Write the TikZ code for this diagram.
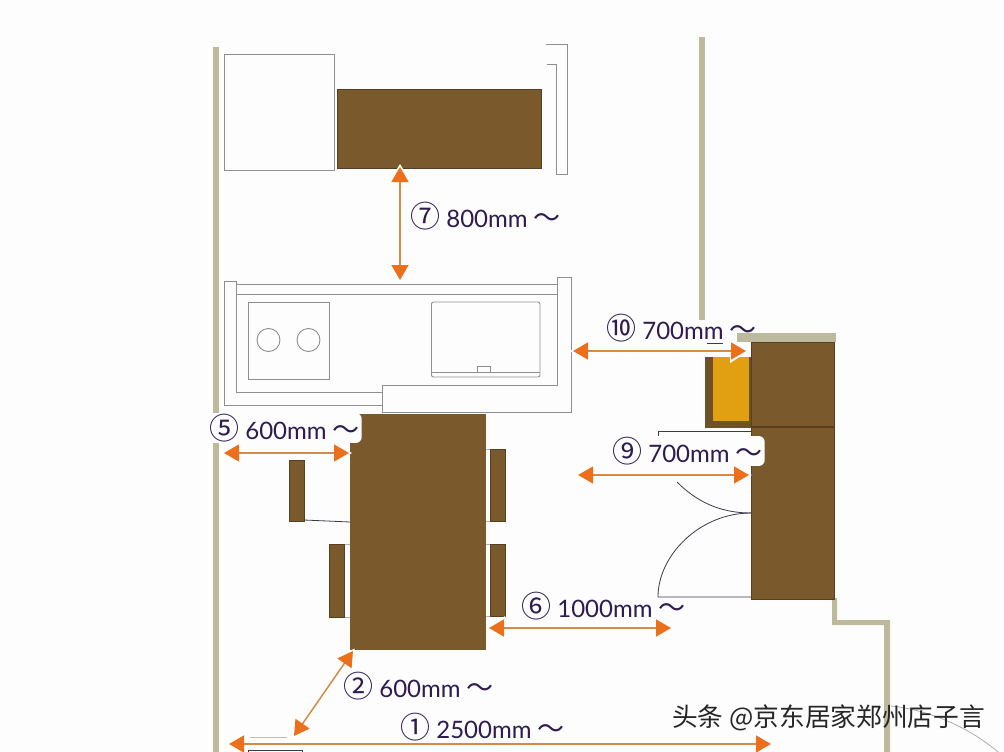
\documentclass[tikz,border=0pt]{standalone}
\usepackage{fontspec}
\setmainfont{Lato}
\newfontfamily\cjkf{Noto Sans CJK JP}
\newfontfamily\cjks{Noto Sans CJK SC}
\usetikzlibrary{arrows.meta}
\definecolor{bgc}{HTML}{FDFDFE}
\definecolor{wallc}{HTML}{BDB99C}
\definecolor{brownc}{HTML}{7A5A2C}
\definecolor{browne}{HTML}{57401F}
\definecolor{yellowc}{HTML}{E0A012}
\definecolor{linec}{HTML}{8C9090}
\definecolor{orangec}{HTML}{EC701C}
\definecolor{shaftc}{HTML}{D58A45}
\definecolor{labelc}{HTML}{2E1B4F}
\definecolor{darkl}{HTML}{3C3A48}
\tikzset{
  wall/.style={fill=wallc,draw=none},
  outline/.style={draw=linec,line width=0.9pt,line join=miter},
  wood/.style={fill=brownc,draw=browne,line width=0.7pt},
  doorline/.style={draw=darkl,line width=0.8pt},
  halo/.style={draw=white,line width=3.5pt,shorten >=-3pt,shorten <=-3pt,
    {Triangle[length=19pt,width=23pt]}-{Triangle[length=19pt,width=23pt]}},
  dimline/.style={draw=shaftc,line width=1.5pt,
    {Triangle[length=15pt,width=17pt,color=orangec]}-{Triangle[length=15pt,width=17pt,color=orangec]}},
  dimlabel/.style={anchor=west,inner sep=0pt,text=labelc,font=\fontsize{24}{26}\selectfont},
  blank/.style={fill=bgc,rounded corners=6pt,inner xsep=2pt,inner ysep=1pt},
  wmark/.style={anchor=west,inner sep=0pt,text=black!85,font=\cjks\fontsize{25.7}{28}\selectfont}
}
\newcommand{\circnum}[1]{{\cjkf\fontsize{30}{30}\selectfont #1}}
\newcommand{\wavemark}{{\cjkf\fontsize{27}{27}\selectfont 〜}}
\newcommand{\dimarrow}[2]{\draw[halo] (#1) -- (#2);\draw[dimline] (#1) -- (#2);}
\begin{document}
\begin{tikzpicture}[x=1pt,y=-1pt]
\useasboundingbox (0,0) rectangle (1004,752);
\fill[bgc] (0,0) rectangle (1004,752);
% walls
\fill[wall] (213,47) rectangle (219,752);
\fill[wall] (699,37) rectangle (705,320);
\fill[wall] (737,333) rectangle (836,342);
\fill[wall] (832,598) -- (837,598) -- (837,620) -- (890,620) -- (890,752) -- (884,752) -- (884,625) -- (832,625) -- cycle;
\draw[draw=linec!80,line width=0.7pt] (891,706) .. controls (930,710) and (970,728) .. (998,752);
% fridge box and brown counter
\draw[outline] (224,54) rectangle (334,170);
\fill[brownc] (337,89) rectangle (541,168);
\draw[browne,line width=0.7pt] (337,89) rectangle (541,168);
\draw[outline] (546,44) -- (567.5,44) -- (567.5,174) -- (556,174) -- (556,64) -- (547,64);
% kitchen counter
\draw[outline] (224,281) -- (236.5,281) -- (236.5,392) -- (382,392);
\draw[outline] (224,281) -- (224,405) -- (382,405);
\draw[outline] (382,412) -- (382,385) -- (557,385) -- (557,277) -- (571.5,277) -- (571.5,412) -- cycle;
\draw[outline] (236.5,284.5) -- (557,284.5);
\draw[outline] (236.5,294) -- (557,294);
\draw[outline] (248,302) rectangle (329,379);
\draw[outline] (268.5,340) circle (11.5);
\draw[outline] (308.5,340) circle (11.5);
\draw[outline,rounded corners=2pt] (431.5,302) rectangle (540,377);
\draw[outline] (431.5,372) -- (540,372);
\draw[outline] (477,372) -- (477,366) -- (490,366) -- (490,372);
% table and chairs
\draw[draw=linec!70,line width=0.6pt] (344,544) -- (350,544) (344,617) -- (350,617);
\draw[draw=linec!70,line width=0.6pt] (486,449) -- (490,449) (486,521) -- (490,521) (486,544) -- (490,544) (486,616) -- (490,616);
\draw[doorline] (304,520) -- (350,522);
\draw[wood] (289.5,460) rectangle (304,521);
\draw[wood] (329.5,544) rectangle (344,617);
\draw[wood] (490.5,449.5) rectangle (505,521);
\draw[wood] (490.5,544) rectangle (505,616);
\fill[brownc] (350,414) rectangle (486,650);
% cabinet
\fill[brownc!90!black] (705,357) rectangle (751,428);
\fill[yellowc] (713,357) rectangle (749,421);
\fill[brownc] (751,342) rectangle (834,599);
\draw[browne,line width=1pt] (751,342) rectangle (834,599);
\draw[browne,line width=1.4pt] (751,427) -- (834,427);
% door
\draw[doorline] (658,437) -- (658,431) -- (751,431);
\draw[doorline] (751,513) .. controls (718,513) and (695,500) .. (677,482);
\draw[doorline] (751,513) .. controls (700,513) and (658,555) .. (658,597) -- (751,597);
\draw[doorline] (707,343) -- (723,343);
% bottom-left fragments
\draw[draw=linec!60,line width=0.7pt] (250,737.5) -- (287,737.5);
\draw[draw=darkl,line width=1pt] (248,752) -- (248,750.5) -- (302,750.5) -- (302,752);
% coordinates
\coordinate (d7a) at (400,167); \coordinate (d7b) at (400,280);
\coordinate (d10a) at (573,351); \coordinate (d10b) at (746,351);
\coordinate (d9a) at (578,475); \coordinate (d9b) at (749,475);
\coordinate (d5a) at (224,453); \coordinate (d5b) at (349,453);
\coordinate (d6a) at (489,628); \coordinate (d6b) at (671,628);
\coordinate (d2a) at (353,651); \coordinate (d2b) at (294,736);
\coordinate (d1a) at (229,744); \coordinate (d1b) at (771,744);
% labels with white backing
\node[dimlabel,blank] (l5) at (207,428) {\circnum{⑤} 600mm \wavemark};
\node[dimlabel,blank] (l9) at (610,451) {\circnum{⑨} 700mm \wavemark};
\node[dimlabel] (l10) at (606,328) {\circnum{⑩} 700mm \wavemark};
\node[dimlabel] (l7) at (410,216) {\circnum{⑦} 800mm \wavemark};
\node[dimlabel] (l6) at (521,606) {\circnum{⑥} 1000mm \wavemark};
\node[dimlabel] (l2) at (343,686) {\circnum{②} 600mm \wavemark};
\node[dimlabel] (l1) at (400,727) {\circnum{①} 2500mm \wavemark};
% arrows
\dimarrow{d7a}{d7b}
\dimarrow{d10a}{d10b}
\dimarrow{d9a}{d9b}
\dimarrow{d5a}{d5b}
\dimarrow{d6a}{d6b}
\dimarrow{d2a}{d2b}
\dimarrow{d1a}{d1b}
% watermark
\node[wmark] (wm) at (672,718) {头条 @京东居家郑州店子言};
\end{tikzpicture}
\end{document}
